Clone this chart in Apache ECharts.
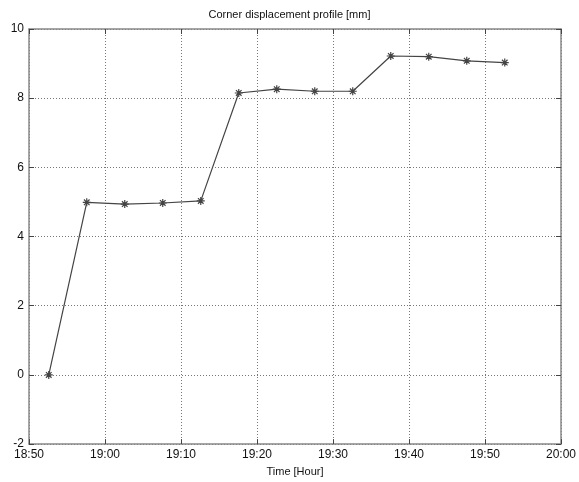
<!DOCTYPE html>
<html><head><meta charset="utf-8">
<script src="https://cdn.jsdelivr.net/npm/echarts@6/dist/echarts.min.js"></script>
<style>html,body{margin:0;padding:0;background:#fff;overflow:hidden}#c{width:579px;height:482px}</style>
</head><body><div id="c"></div>
<script>
const times = ["18:52:36","18:57:36","19:02:36","19:07:36","19:12:36","19:17:36","19:22:36","19:27:36","19:32:36","19:37:36","19:42:36","19:47:36","19:52:36"];
const displacement = [0, 4.99, 4.94, 4.97, 5.03, 8.15, 8.26, 8.2, 8.2, 9.22, 9.2, 9.08, 9.03];
const xTickLabels = ["18:50","19:00","19:10","19:20","19:30","19:40","19:50","20:00"];
const yTicks = [-2, 0, 2, 4, 6, 8, 10];
const titleText = "Corner displacement profile [mm]";
const xName = "Time [Hour]";

function toMin(t){const p=t.split(':').map(Number);return (p[0]-18)*60+p[1]+(p[2]||0)/60-50;}
const data = times.map((t,i)=>[toMin(t), displacement[i]]);
const star = 'path://M5,0 L5,10 M0,5 L10,5 M1.5,1.5 L8.5,8.5 M8.5,1.5 L1.5,8.5';
const font = 'Liberation Sans, Arial, sans-serif';
const axCol = '#888';
const chart = echarts.init(document.getElementById('c'));
chart.setOption({
  animation:false,
  title:{text:titleText,left:'center',top:4,textStyle:{fontFamily:font,fontSize:11,fontWeight:'normal',color:'#111'}},
  grid:{left:29,right:16,top:29,bottom:33},
  xAxis:[{type:'value',min:0,max:70,interval:10,
    axisLine:{onZero:false,lineStyle:{color:axCol,width:1.5}},
    axisTick:{inside:true,length:5,lineStyle:{color:'#444'}},
    axisLabel:{formatter:(v)=>xTickLabels[Math.round(v/10)],fontFamily:font,fontSize:12,color:'#111',margin:5},
    splitLine:{show:true,lineStyle:{type:[1,2],color:'#777'}},
    name:xName,nameLocation:'middle',nameGap:18,nameTextStyle:{fontFamily:font,fontSize:11,color:'#111'}},
   {type:'value',position:'top',min:0,max:70,interval:10,
    axisLine:{show:true,onZero:false,lineStyle:{color:axCol,width:1.5}},
    axisTick:{inside:true,length:5,lineStyle:{color:'#444'}},
    axisLabel:{show:false},splitLine:{show:false}}],
  yAxis:[{type:'value',min:yTicks[0],max:yTicks[yTicks.length-1],interval:2,
    axisLine:{show:true,onZero:false,lineStyle:{color:axCol,width:1.5}},
    axisTick:{inside:true,length:5,lineStyle:{color:'#444'}},
    axisLabel:{fontFamily:font,fontSize:12,color:'#111',margin:5},
    splitLine:{show:true,lineStyle:{type:[1,2],color:'#777'}}},
   {type:'value',position:'right',min:-2,max:10,interval:2,
    axisLine:{show:true,onZero:false,lineStyle:{color:axCol,width:1.5}},
    axisTick:{inside:true,length:5,lineStyle:{color:'#444'}},
    axisLabel:{show:false},splitLine:{show:false}}],
  series:[{type:'line',data:data,symbol:star,symbolSize:8,
    lineStyle:{color:'#444',width:1.2},
    itemStyle:{color:'#444',borderColor:'#444',borderWidth:1.2}}]
});
</script></body></html>
